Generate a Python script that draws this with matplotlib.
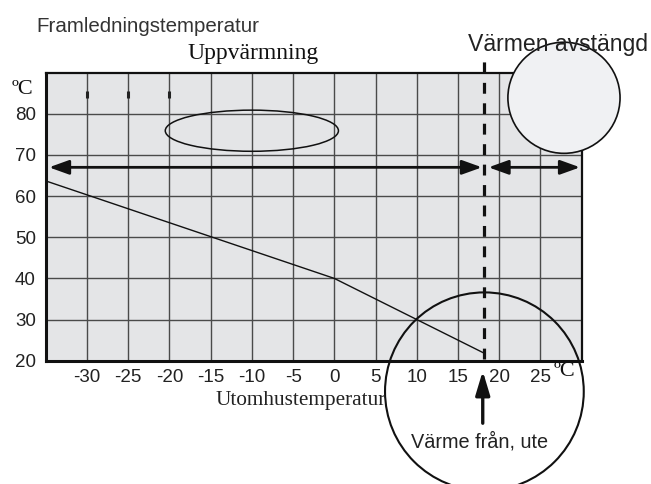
import matplotlib
matplotlib.use("Agg")
import matplotlib.pyplot as plt
from matplotlib.patches import Ellipse

# Heating curve: supply temperature vs outdoor temperature
outdoor = [-35, 0, 18]
supply = [63.7, 40, 22]

x_ticks = [-30, -25, -20, -15, -10, -5, 0, 5, 10, 15, 20, 25]
y_ticks = [20, 30, 40, 50, 60, 70, 80]
cutoff = 18.2          # outdoor temperature where heating switches off
arrow_level = 67       # height of the range arrows
marker_x = [-30, -25, -20]

sans = "Liberation Sans"
serif = "Liberation Serif"

W, H = 651, 484
fig = plt.figure(figsize=(W / 100, H / 100), dpi=100)
ax = fig.add_axes([45.7 / W, 1 - 360.7 / H, (581.7 - 45.7) / W, (360.7 - 72.7) / H])
ax.set_xlim(-35, 30)
ax.set_ylim(20, 90)
ax.set_facecolor("#e4e5e7")

# grid
for gx in range(-30, 30, 5):
    ax.axvline(gx, color="#4a4a4a", lw=1.0, zorder=1)
for gy in range(30, 90, 10):
    ax.axhline(gy, color="#4a4a4a", lw=1.0, zorder=1)

for side, lw in (("left", 2.2), ("bottom", 2.2), ("top", 1.6), ("right", 1.6)):
    ax.spines[side].set_linewidth(lw)
    ax.spines[side].set_color("#111111")

ax.set_xticks(x_ticks)
ax.set_xticklabels([str(v) for v in x_ticks])
ax.set_yticks(y_ticks)
ax.set_yticklabels([str(v) for v in y_ticks])
ax.tick_params(length=0, labelsize=13.5, colors="#222222")
ax.tick_params(axis="y", pad=7)
ax.tick_params(axis="x", pad=6)
for lab in ax.get_xticklabels() + ax.get_yticklabels():
    lab.set_family(sans)

# small marks near the top
for mx in marker_x:
    ax.plot([mx, mx], [83.8, 85.6], color="#222222", lw=2.2, solid_capstyle="butt", zorder=2)

# curve
ax.plot(outdoor, supply, color="#111111", lw=1.0, zorder=3)

# cutoff dashed line
ax.plot([cutoff, cutoff], [20.5, 94.7], color="#111111", lw=2.3,
        dashes=(3.4, 3.0), clip_on=False, zorder=4)

# range arrows
arrow_kw = dict(arrowstyle="<|-|>,head_length=1.0,head_width=0.36",
                mutation_scale=12, color="#111111", lw=2.0, shrinkA=0, shrinkB=0)
ax.annotate("", xy=(-34.6, arrow_level), xytext=(cutoff - 0.3, arrow_level),
            arrowprops=arrow_kw, zorder=5)
ax.annotate("", xy=(cutoff + 0.5, arrow_level), xytext=(29.8, arrow_level),
            arrowprops=arrow_kw, zorder=5)

# ellipse over the heating area
ax.add_patch(Ellipse((-10, 75.9), 21, 10, fill=False, ec="#111111", lw=1.1, zorder=4))

# circle at "Värmen avstängd"
ax.add_patch(Ellipse((27.85, 83.9), 13.6, 27.0, fc="#f0f1f3", ec="#111111",
                     lw=1.2, clip_on=False, zorder=6))

# circle around the cutoff point
ax.add_patch(Ellipse((cutoff, 12.5), 24.1, 48.2, fill=False, ec="#111111",
                     lw=1.5, clip_on=False, zorder=6))

# upward arrow
ax.annotate("", xy=(cutoff - 0.2, 17.5), xytext=(cutoff - 0.2, 4.8),
            arrowprops=dict(arrowstyle="-|>,head_length=1.2,head_width=0.36",
                            mutation_scale=12, color="#111111", lw=2.4,
                            shrinkA=0, shrinkB=0),
            annotation_clip=False, zorder=7)

# texts
fig.text(36 / W, 1 - 26 / H, "Framledningstemperatur", family=sans, fontsize=14.8,
         color="#333333", va="center", ha="left")
fig.text(253 / W, 1 - 53 / H, "Uppvärmning", family=serif, fontsize=17,
         color="#111111", va="center", ha="center")
fig.text(558 / W, 1 - 45 / H, "Värmen avstängd", family=sans, fontsize=16.6,
         color="#222222", va="center", ha="center", zorder=10)
fig.text(23 / W, 1 - 89 / H, "ºC", family=serif, fontsize=16,
         color="#111111", va="center", ha="center")
fig.text(564 / W, 1 - 371 / H, "ºC", family=serif, fontsize=16,
         color="#111111", va="center", ha="center")
fig.text(301 / W, 1 - 401 / H, "Utomhustemperatur", family=serif, fontsize=15.3,
         color="#222222", va="center", ha="center")
fig.text(480 / W, 1 - 442 / H, "Värme från, ute", family=sans, fontsize=14.3,
         color="#222222", va="center", ha="center")

fig.savefig("out.png", dpi=100)
